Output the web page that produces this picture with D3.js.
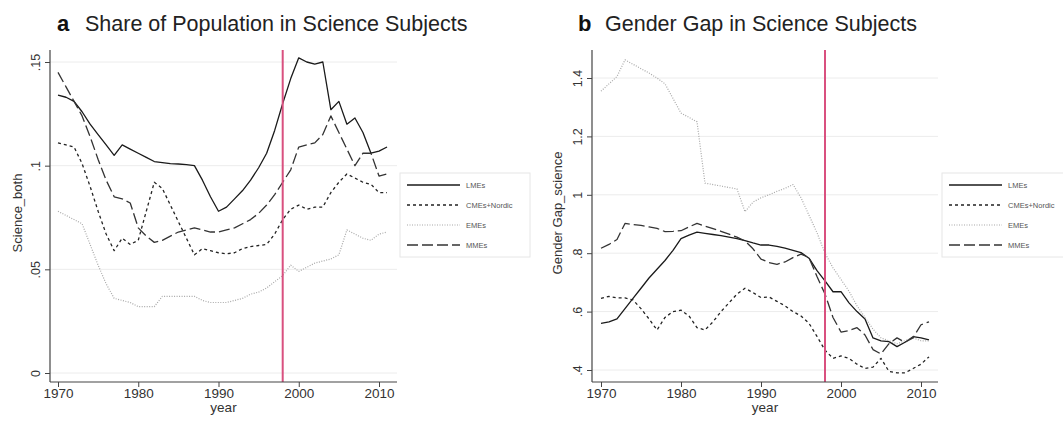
<!DOCTYPE html>
<html>
<head>
<meta charset="utf-8">
<script src="https://cdn.jsdelivr.net/npm/d3@7"></script>
<style>
  body { margin: 0; background: #fff; }
  svg { font-family: "Liberation Sans", Arial, sans-serif; }
</style>
</head>
<body>
<div id="chart"></div>
<script>

// years on the x axis
var years = [1970, 1971, 1972, 1973, 1974, 1975, 1976, 1977, 1978, 1979,
             1980, 1981, 1982, 1983, 1984, 1985, 1986, 1987, 1988, 1989,
             1990, 1991, 1992, 1993, 1994, 1995, 1996, 1997, 1998, 1999,
             2000, 2001, 2002, 2003, 2004, 2005, 2006, 2007, 2008, 2009,
             2010, 2011];

var seriesNames = ["LMEs", "CMEs+Nordic", "EMEs", "MMEs"];
var reformYear = 1998;

// panel a : Science_both
var shareLMEs = [0.134, 0.133, 0.131, 0.126, 0.120, 0.115, 0.110, 0.105, 0.110, 0.108,
                 0.106, 0.104, 0.102, 0.1015, 0.101, 0.1008, 0.1005, 0.100, 0.093, 0.085,
                 0.078, 0.080, 0.084, 0.088, 0.093, 0.099, 0.106, 0.117, 0.130, 0.142,
                 0.152, 0.150, 0.149, 0.150, 0.127, 0.131, 0.120, 0.123, 0.116, 0.106,
                 0.107, 0.109];
var shareCMEs = [0.111, 0.110, 0.109, 0.101, 0.090, 0.078, 0.067, 0.059, 0.065, 0.062,
                 0.064, 0.078, 0.092, 0.089, 0.081, 0.073, 0.065, 0.057, 0.060, 0.059,
                 0.058, 0.0575, 0.058, 0.060, 0.061, 0.0615, 0.062, 0.067, 0.074, 0.079,
                 0.081, 0.079, 0.080, 0.080, 0.087, 0.092, 0.096, 0.094, 0.092, 0.091,
                 0.087, 0.087];
var shareEMEs = [0.078, 0.076, 0.074, 0.072, 0.062, 0.052, 0.043, 0.036, 0.035, 0.034,
                 0.032, 0.032, 0.032, 0.037, 0.037, 0.037, 0.037, 0.037, 0.035, 0.034,
                 0.034, 0.034, 0.035, 0.036, 0.038, 0.039, 0.041, 0.044, 0.047, 0.052,
                 0.049, 0.051, 0.053, 0.054, 0.055, 0.057, 0.069, 0.067, 0.065, 0.064,
                 0.067, 0.068];
var shareMMEs = [0.145, 0.138, 0.131, 0.124, 0.114, 0.103, 0.093, 0.085, 0.084, 0.082,
                 0.070, 0.066, 0.063, 0.064, 0.066, 0.068, 0.069, 0.070, 0.069, 0.068,
                 0.068, 0.069, 0.070, 0.072, 0.074, 0.077, 0.081, 0.086, 0.092, 0.098,
                 0.109, 0.110, 0.111, 0.115, 0.124, 0.116, 0.108, 0.100, 0.106, 0.106,
                 0.095, 0.096];
var shareTicks = [0, 0.05, 0.1, 0.15];
var shareTickLabels = ["0", ".05", ".1", ".15"];

// panel b : Gender Gap_science
var gapLMEs = [0.560, 0.565, 0.575, 0.610, 0.645, 0.680, 0.715, 0.745, 0.775, 0.810,
               0.850, 0.862, 0.872, 0.868, 0.864, 0.860, 0.855, 0.850, 0.843, 0.835,
               0.828, 0.828, 0.823, 0.817, 0.810, 0.802, 0.783, 0.740, 0.705, 0.668,
               0.668, 0.630, 0.600, 0.575, 0.510, 0.500, 0.497, 0.480, 0.495, 0.514,
               0.510, 0.503];
var gapCMEs = [0.645, 0.652, 0.647, 0.647, 0.640, 0.610, 0.575, 0.537, 0.580, 0.600,
               0.605, 0.585, 0.545, 0.537, 0.565, 0.600, 0.630, 0.660, 0.680, 0.665,
               0.648, 0.650, 0.635, 0.620, 0.600, 0.585, 0.560, 0.515, 0.468, 0.440,
               0.448, 0.440, 0.420, 0.405, 0.410, 0.440, 0.395, 0.390, 0.390, 0.405,
               0.420, 0.445];
var gapEMEs = [1.355, 1.380, 1.405, 1.462, 1.447, 1.432, 1.417, 1.400, 1.380, 1.330,
               1.280, 1.265, 1.250, 1.040, 1.035, 1.030, 1.025, 1.020, 0.942, 0.975,
               0.990, 1.000, 1.012, 1.022, 1.035, 0.990, 0.930, 0.870, 0.800, 0.750,
               0.710, 0.670, 0.620, 0.580, 0.540, 0.510, 0.500, 0.490, 0.500, 0.510,
               0.500, 0.500];
var gapMMEs = [0.817, 0.830, 0.847, 0.902, 0.898, 0.895, 0.890, 0.885, 0.874, 0.875,
               0.877, 0.890, 0.902, 0.893, 0.884, 0.875, 0.865, 0.855, 0.842, 0.815,
               0.780, 0.768, 0.762, 0.770, 0.785, 0.797, 0.785, 0.720, 0.660, 0.580,
               0.530, 0.535, 0.545, 0.520, 0.470, 0.455, 0.490, 0.510, 0.495, 0.510,
               0.555, 0.565];
var gapTicks = [0.4, 0.6, 0.8, 1, 1.2, 1.4];
var gapTickLabels = [".4", ".6", ".8", "1", "1.2", "1.4"];

var yearTicks = [1970, 1980, 1990, 2000, 2010];

// line styles per series
var styles = [
  {stroke: "#1a1a1a", width: 1.3, dash: null},
  {stroke: "#222",    width: 1.3, dash: "3,3"},
  {stroke: "#a8a8a8", width: 1.2, dash: "1,1.5"},
  {stroke: "#333",    width: 1.3, dash: "11,4"}
];

var svg = d3.select("#chart")
  .append("svg")
    .attr("width", 1063)
    .attr("height", 423);

function drawPanel(p) {
  var g = svg.append("g");

  var x = d3.scaleLinear().domain([1970, 2010]).range(p.xRange);
  var y = d3.scaleLinear().domain(p.yDomain).range(p.yRange);

  // gridlines
  g.selectAll(".grid")
    .data(p.ticks)
    .enter().append("line")
      .attr("x1", p.box[0]).attr("x2", p.box[1])
      .attr("y1", function(d) { return y(d); })
      .attr("y2", function(d) { return y(d); })
      .attr("stroke", "#ececec")
      .attr("stroke-width", 1);

  // series
  var line = d3.line()
    .x(function(d, i) { return x(years[i]); })
    .y(function(d) { return y(d); });

  p.series.forEach(function(s, i) {
    g.append("path")
      .datum(s)
      .attr("fill", "none")
      .attr("stroke", styles[i].stroke)
      .attr("stroke-width", styles[i].width)
      .attr("stroke-dasharray", styles[i].dash)
      .attr("stroke-linejoin", "round")
      .attr("d", line);
  });

  // reform line
  g.append("line")
    .attr("x1", x(reformYear)).attr("x2", x(reformYear))
    .attr("y1", p.box[2]).attr("y2", p.box[3])
    .attr("stroke", "#d9507f")
    .attr("stroke-width", 2);

  // x axis
  var xAxis = g.append("g")
    .attr("transform", "translate(0," + p.box[3] + ")")
    .call(d3.axisBottom(x).tickValues(yearTicks).tickFormat(d3.format("d"))
      .tickSize(5).tickSizeOuter(0).tickPadding(1));
  xAxis.select(".domain").remove();
  xAxis.selectAll("line").attr("stroke", "#444");
  xAxis.selectAll("text").attr("font-size", 13.5).attr("fill", "#333")
    .attr("font-family", "Liberation Sans, Arial, sans-serif");

  // y axis
  var yAxis = g.append("g")
    .attr("transform", "translate(" + p.box[0] + ",0)")
    .call(d3.axisLeft(y).tickValues(p.ticks)
      .tickFormat(function(d, i) { return p.tickLabels[i]; })
      .tickSize(5).tickSizeOuter(0));
  yAxis.select(".domain").remove();
  yAxis.selectAll("line").attr("stroke", "#444");
  yAxis.selectAll("text")
    .attr("x", null).attr("dy", null)
    .attr("text-anchor", "middle")
    .attr("transform", "translate(-10,0) rotate(-90)")
    .attr("font-size", 12.5).attr("fill", "#333")
    .attr("font-family", "Liberation Sans, Arial, sans-serif");

  // axis lines
  g.append("line")
    .attr("x1", p.box[0]).attr("x2", p.box[0])
    .attr("y1", p.box[2]).attr("y2", p.box[3])
    .attr("stroke", "#444").attr("stroke-width", 1.2);
  g.append("line")
    .attr("x1", p.box[0]).attr("x2", p.box[1])
    .attr("y1", p.box[3]).attr("y2", p.box[3])
    .attr("stroke", "#444").attr("stroke-width", 1.2);

  // axis titles
  g.append("text")
    .attr("x", (p.box[0] + p.box[1]) / 2).attr("y", 412)
    .attr("text-anchor", "middle")
    .attr("font-size", 13.5).attr("fill", "#333")
    .text("year");
  g.append("text")
    .attr("transform", "translate(" + p.yTitleX + ",213) rotate(-90)")
    .attr("text-anchor", "middle")
    .attr("font-size", 13).attr("fill", "#333")
    .text(p.yTitle);

  // panel title
  g.append("text")
    .attr("x", p.letterX).attr("y", 31)
    .attr("font-size", 22).attr("font-weight", "bold").attr("fill", "#111")
    .text(p.letter);
  g.append("text")
    .attr("x", p.titleX).attr("y", 31)
    .attr("font-size", 21.5).attr("fill", "#222")
    .text(p.title);

  // legend
  var lg = g.append("g").attr("transform", "translate(" + p.legendX + ",173)");
  lg.append("rect")
    .attr("width", p.legendW).attr("height", 84)
    .attr("fill", "#fff").attr("stroke", "#e6e6e6");
  seriesNames.forEach(function(name, i) {
    var yy = 12 + i * 20;
    lg.append("line")
      .attr("x1", 7).attr("x2", 60)
      .attr("y1", yy).attr("y2", yy)
      .attr("stroke", styles[i].stroke)
      .attr("stroke-width", styles[i].width)
      .attr("stroke-dasharray", styles[i].dash);
    lg.append("text")
      .attr("x", 66).attr("y", yy + 2.5)
      .attr("font-size", 7.5).attr("fill", "#555")
      .text(name);
  });
}

drawPanel({
  box: [50, 397, 50, 382],
  xRange: [58, 379],
  yDomain: [0, 0.15], yRange: [373, 62],
  ticks: shareTicks, tickLabels: shareTickLabels,
  series: [shareLMEs, shareCMEs, shareEMEs, shareMMEs],
  yTitle: "Science_both", yTitleX: 22,
  letter: "a", letterX: 57, titleX: 85,
  title: "Share of Population in Science Subjects",
  legendX: 400, legendW: 130
});

drawPanel({
  box: [592, 938, 50, 382],
  xRange: [601, 921],
  yDomain: [0.4, 1.4], yRange: [370, 78],
  ticks: gapTicks, tickLabels: gapTickLabels,
  series: [gapLMEs, gapCMEs, gapEMEs, gapMMEs],
  yTitle: "Gender Gap_science", yTitleX: 562,
  letter: "b", letterX: 578, titleX: 605,
  title: "Gender Gap in Science Subjects",
  legendX: 942, legendW: 130
});

</script>
</body>
</html>
